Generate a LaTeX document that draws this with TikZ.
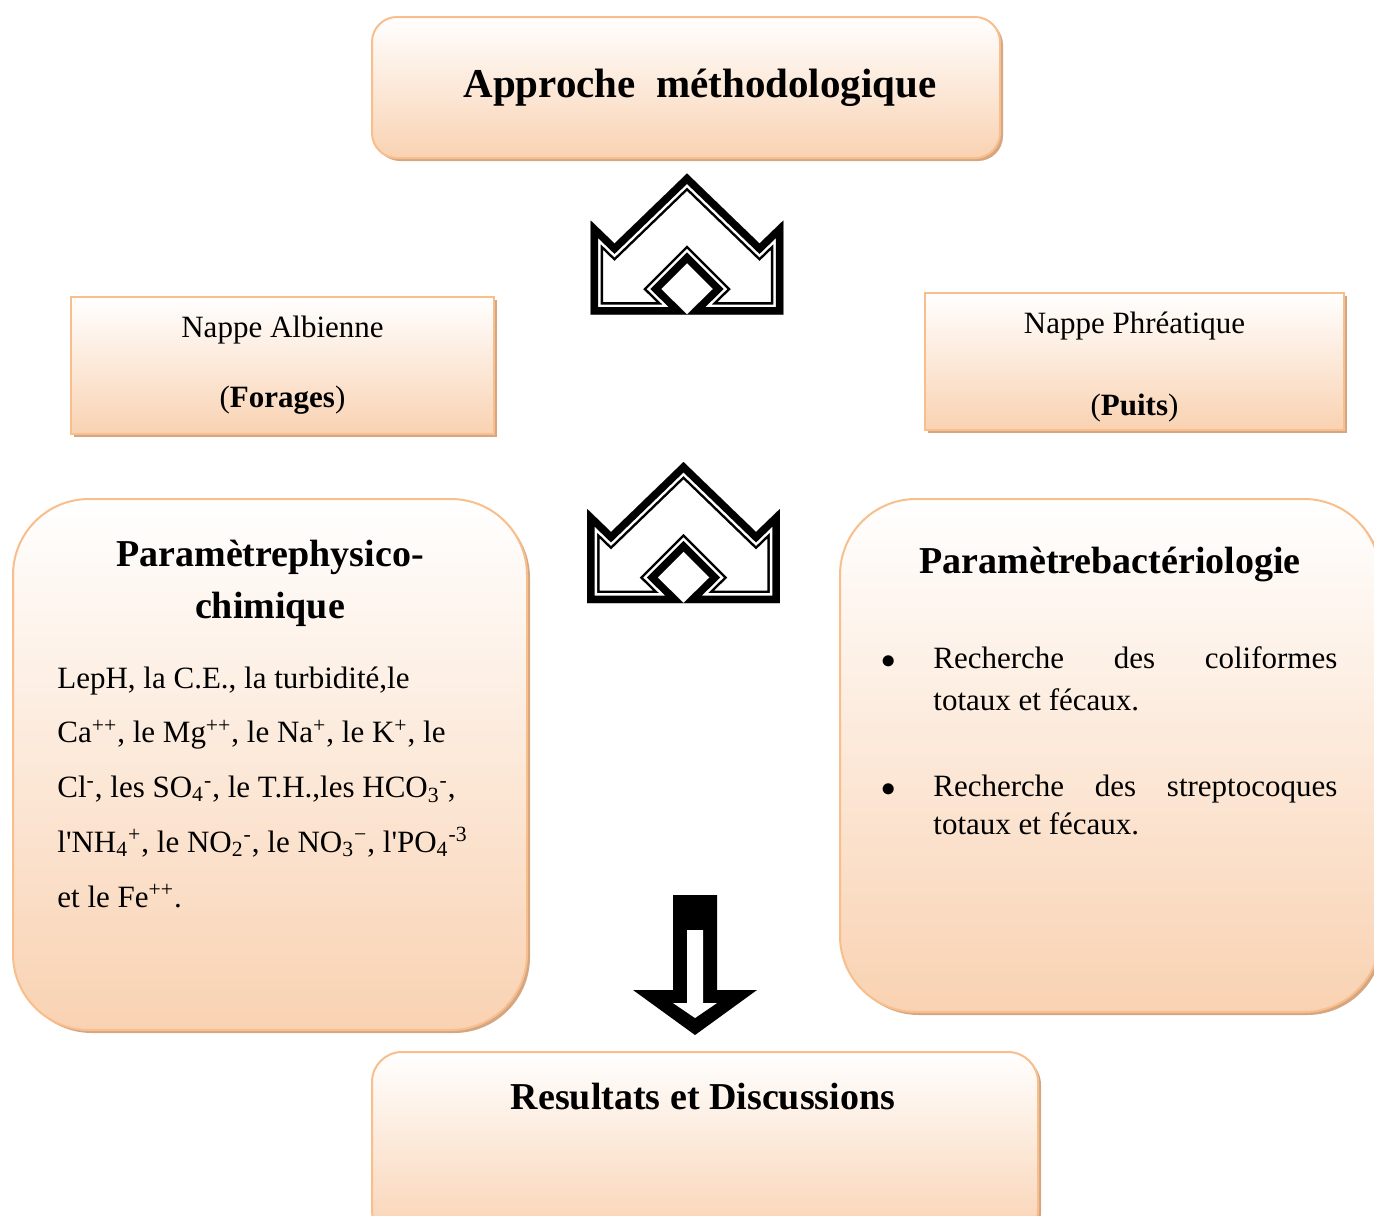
\documentclass[tikz,border=0pt]{standalone}
\usepackage{fontspec}
\setmainfont{Liberation Serif}
\usetikzlibrary{shadows}

\definecolor{boxline}{RGB}{248,190,140}
\definecolor{boxpeach}{RGB}{249,210,178}
\definecolor{boxshadow}{RGB}{212,166,130}

\def\crownpath{(0,0) -- (72.5,70) -- (96.3,47) -- (96.3,141) -- (0,141) -- (26,115.5) -- (0,89.5) -- (-26,115.5) -- (0,141) -- (-96.3,141) -- (-96.3,47) -- (-72.5,70) -- cycle}
\newcommand{\crownarrow}[1]{%
  \begin{scope}[shift={#1}]
    \clip \crownpath;
    \foreach \lw/\lc in {12.5pt/black,10pt/white,7.5pt/black}
      \draw[line width=\lw, draw=\lc, line join=miter] \crownpath;
  \end{scope}}
\newcommand{\bactitem}[2]{\makebox[26.5pt][l]{\hspace{0.5pt}$\bullet$}\parbox[t]{202pt}{\makebox[202pt][s]{#1}\\#2}}

\begin{document}
\begin{tikzpicture}[
    x=0.5pt, y=-0.5pt,
    shadowed/.style={draw=boxline, line width=1pt, top color=white, bottom color=boxpeach,
      drop shadow={shadow xshift=1.5pt, shadow yshift=-1.5pt, fill=boxshadow, opacity=1}},
    bigtitle/.style={font=\bfseries\fontsize{20.5}{24}\selectfont, inner sep=0pt},
    boxtitle/.style={font=\bfseries\fontsize{19}{26}\selectfont, inner sep=0pt, anchor=base},
    bodytext/.style={font=\fontsize{15.5}{27.4}\selectfont, inner sep=0pt, anchor=base west},
    itemtext/.style={font=\fontsize{15.5}{21}\selectfont, inner sep=0pt, anchor=base west},
    nappe/.style={shadowed, align=center, font=\fontsize{15.5}{33}\selectfont, minimum width=211.5pt, minimum height=68.5pt}
]
\useasboundingbox (0,0) rectangle (1374,1215);

\node[shadowed, rounded corners=12.5pt, minimum width=314pt, minimum height=70.5pt] (approche) at (686,87.5) {};
\node[bigtitle] (approchetitle) at (700,87.5) {Approche\ \ méthodologique};

\node[nappe] (albienne) at (282.5,365.5) {Nappe Albienne\\[2pt](\textbf{Forages})};
\node[nappe, minimum width=209.5pt] (phreatique) at (1134.5,361.5) {\rule{0pt}{16.5pt}Nappe Phréatique\\[8pt](\textbf{Puits})};

\node[shadowed, rounded corners=38pt, minimum width=257pt, minimum height=265.5pt] (physbox) at (270,764.5) {};
\node[shadowed, rounded corners=38pt, minimum width=270pt, minimum height=256.5pt] (bactbox) at (1110,755.5) {};
\node[shadowed, rounded corners=15pt, minimum width=333pt, minimum height=94pt] (results) at (705,1146) {};

\node[boxtitle] (phystitle) at (270,566) {\parbox[t]{250pt}{\centering Paramètrephysico-\\chimique}};
\node[bodytext] (physlist) at (57,688) {\parbox[t]{240pt}{\raggedright
  LepH, la C.E., la turbidité,le\\
  Ca\textsuperscript{++}, le Mg\textsuperscript{++}, le Na\textsuperscript{+}, le K\textsuperscript{+}, le\\
  Cl\textsuperscript{-}, les SO\textsubscript{4}\textsuperscript{-}, le T.H.,les HCO\textsubscript{3}\textsuperscript{-},\\
  l\textquotesingle NH\textsubscript{4}\textsuperscript{+}, le NO\textsubscript{2}\textsuperscript{-}, le NO\textsubscript{3}\textsuperscript{−}, l\textquotesingle PO\textsubscript{4}\textsuperscript{-3}\\
  et le Fe\textsuperscript{++}.}};

\node[boxtitle] (bacttitle) at (1110,573) {Paramètrebactériologie};
\node[itemtext] (coliformes) at (880,668) {\bactitem{Recherche des coliformes}{totaux et fécaux.}};
\node[itemtext, font=\fontsize{15.5}{19}\selectfont] (streptos) at (880,796) {\bactitem{Recherche des streptocoques}{totaux et fécaux.}};

\node[boxtitle] (resultstitle) at (703,1109) {Resultats et Discussions};

\crownarrow{(687,173.5)}
\crownarrow{(683.5,462)}

\fill (673,895) -- (717,895) -- (717,990) -- (757,990) -- (695,1035) -- (633,990) -- (673,990) -- cycle;
\fill[white] (687,930) -- (703,930) -- (703,1003) -- (717,1003) -- (695,1018) -- (673,1003) -- (687,1003) -- cycle;
\end{tikzpicture}
\end{document}
